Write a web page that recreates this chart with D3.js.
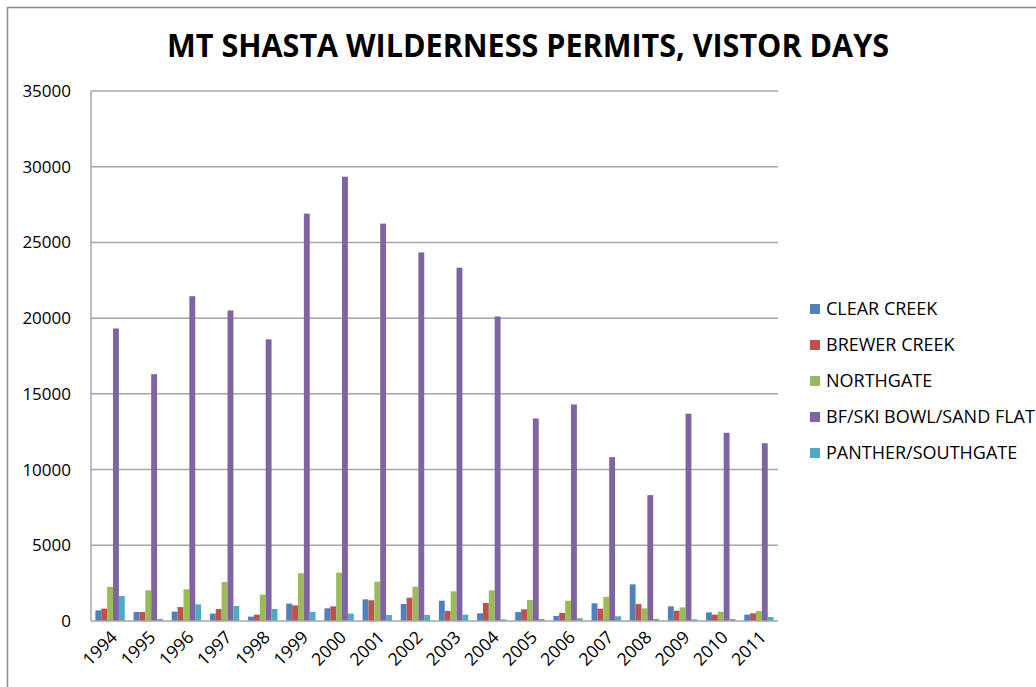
<!DOCTYPE html>
<html>
<head>
<meta charset="utf-8">
<script src="https://cdn.jsdelivr.net/npm/d3@7"></script>
<style>
  body { margin: 0; background: #fff; }
  text { font-family: "Open Sans", sans-serif; fill: #000; }
</style>
</head>
<body>
<div id="chart"></div>
<script>
var years = ["1994", "1995", "1996", "1997", "1998", "1999", "2000", "2001", "2002",
             "2003", "2004", "2005", "2006", "2007", "2008", "2009", "2010", "2011"];

var seriesNames = ["CLEAR CREEK", "BREWER CREEK", "NORTHGATE", "BF/SKI BOWL/SAND FLAT", "PANTHER/SOUTHGATE"];

var clearCreek = [700, 600, 620, 490, 290, 1150, 840, 1430, 1120, 1340, 510, 590, 330, 1170, 2420, 970, 570, 420];
var brewerCreek = [815, 600, 920, 790, 420, 1030, 970, 1370, 1540, 660, 1190, 770, 530, 815, 1120, 680, 420, 510];
var northgate = [2250, 2030, 2090, 2580, 1740, 3150, 3190, 2600, 2270, 1960, 2030, 1390, 1340, 1590, 840, 900, 620, 660];
var bfSkiBowl = [19320, 16300, 21450, 20510, 18600, 26900, 29340, 26240, 24340, 23330, 20110, 13370, 14300, 10820, 8310, 13690, 12430, 11740];
var pantherSouthgate = [1650, 130, 1100, 990, 790, 600, 490, 400, 400, 420, 110, 130, 180, 310, 130, 110, 130, 260];

var yTicks = [0, 5000, 10000, 15000, 20000, 25000, 30000, 35000];
var colors = ["#4F81BD", "#C0504D", "#9BBB59", "#8064A2", "#4BACC6"];

var allSeries = [clearCreek, brewerCreek, northgate, bfSkiBowl, pantherSouthgate];

var full_width = 1036, full_height = 687;
var margin = { top: 91, left: 91, right: 258, bottom: 66 };
var width = full_width - margin.left - margin.right;
var height = full_height - margin.top - margin.bottom;

var svg = d3.select("#chart").append("svg")
    .attr("width", full_width)
    .attr("height", full_height);

// outer frame (only top and left visible)
svg.append("path")
    .attr("d", "M7.5," + full_height + "V7.5H" + full_width)
    .attr("fill", "none")
    .attr("stroke", "#8c8c8c")
    .attr("stroke-width", 1.5);

svg.append("text")
    .attr("x", 528)
    .attr("y", 57)
    .attr("text-anchor", "middle")
    .attr("textLength", 722)
    .attr("lengthAdjust", "spacingAndGlyphs")
    .style("font-size", "32px")
    .style("font-weight", "bold")
    .text("MT SHASTA WILDERNESS PERMITS, VISTOR DAYS");

var x = d3.scaleBand()
    .domain(years)
    .range([0, width])
    .paddingInner(0.23)
    .paddingOuter(0.115);

var x1 = d3.scaleBand()
    .domain(d3.range(seriesNames.length))
    .range([0, x.bandwidth()]);

var y = d3.scaleLinear()
    .domain([0, 35000])
    .range([height, 0]);

var g = svg.append("g")
    .attr("transform", "translate(" + margin.left + "," + margin.top + ")");

// gridlines
g.selectAll(".grid")
    .data(yTicks.slice(1))
    .enter().append("line")
    .attr("x1", 0)
    .attr("x2", width)
    .attr("y1", function(d) { return y(d); })
    .attr("y2", function(d) { return y(d); })
    .attr("stroke", "#a6a6a6")
    .attr("stroke-width", 1.5);

// bars
years.forEach(function(yr, i) {
    allSeries.forEach(function(s, j) {
        g.append("rect")
            .attr("x", x(yr) + x1(j))
            .attr("y", y(s[i]))
            .attr("width", x1.bandwidth())
            .attr("height", height - y(s[i]))
            .attr("fill", colors[j]);
    });
});

// axes lines
g.append("line")
    .attr("x1", 0).attr("x2", 0)
    .attr("y1", 0).attr("y2", height)
    .attr("stroke", "#a6a6a6").attr("stroke-width", 1.5);
g.append("line")
    .attr("x1", 0).attr("x2", width)
    .attr("y1", height).attr("y2", height)
    .attr("stroke", "#a6a6a6").attr("stroke-width", 1.5);

// Y labels
g.selectAll(".ylab")
    .data(yTicks)
    .enter().append("text")
    .attr("x", -20)
    .attr("y", function(d) { return y(d); })
    .attr("dy", "0.35em")
    .attr("text-anchor", "end")
    .style("font-size", "17px")
    .text(function(d) { return d; });

// X labels
g.selectAll(".xlab")
    .data(years)
    .enter().append("text")
    .attr("transform", function(d) {
        return "translate(" + (x(d) + x.bandwidth() / 2 + 4) + "," + (height + 13) + ") rotate(-45)";
    })
    .attr("text-anchor", "end")
    .attr("dy", "0.35em")
    .style("font-size", "17.5px")
    .text(function(d) { return d; });

// legend
var legend = svg.append("g")
    .attr("transform", "translate(810,309)");

seriesNames.forEach(function(name, j) {
    var row = legend.append("g")
        .attr("transform", "translate(0," + (j * 36) + ")");
    row.append("rect")
        .attr("x", 0).attr("y", -5)
        .attr("width", 10).attr("height", 10)
        .attr("fill", colors[j]);
    row.append("text")
        .attr("x", 16)
        .attr("y", 0)
        .attr("dy", "0.35em")
        .style("font-size", "18px")
        .text(name);
});
</script>
</body>
</html>
